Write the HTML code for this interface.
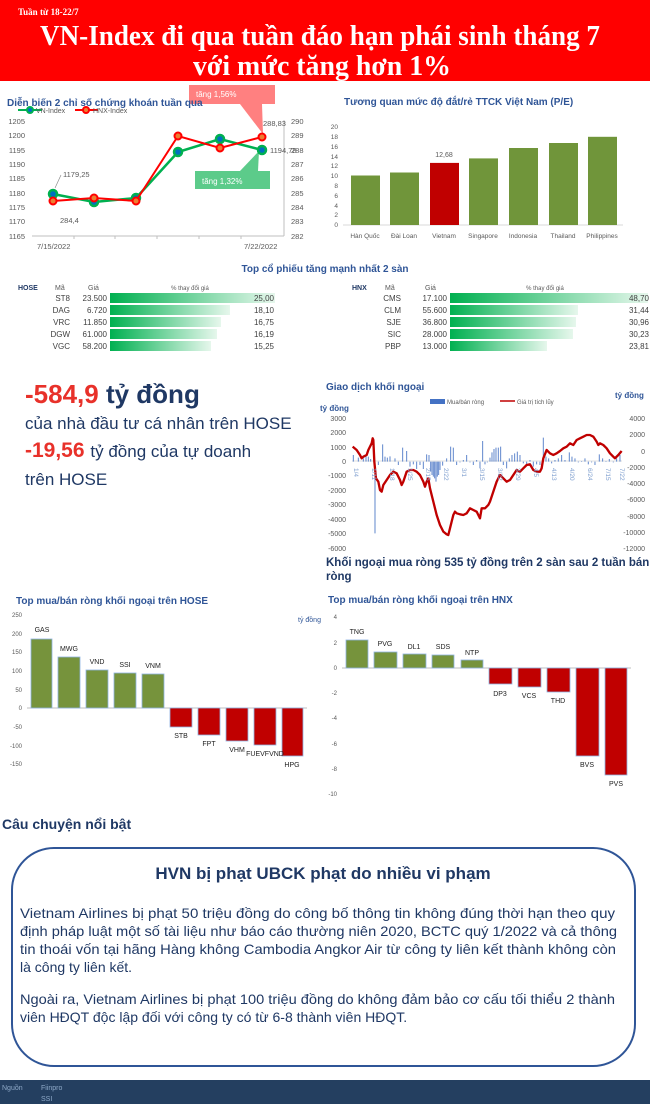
<!DOCTYPE html>
<html><head><meta charset="utf-8"><style>
html,body{margin:0;padding:0;background:#fff;}
svg{display:block;}
text{font-family:"Liberation Sans",sans-serif;}
text.serif{font-family:"Liberation Serif",serif;}
</style></head><body>
<svg width="650" height="1104" viewBox="0 0 650 1104" xmlns="http://www.w3.org/2000/svg">
<defs>
<linearGradient id="gb" x1="0" x2="1" y1="0" y2="0"><stop offset="0" stop-color="#00b050"/><stop offset="1" stop-color="#e6f7ec"/></linearGradient>
</defs>
<!-- header -->
<rect x="0" y="0" width="650" height="81" fill="#ff0000"/>
<text class="serif" x="18" y="15" fill="#fff" font-weight="bold" font-size="9">Tuần từ 18-22/7</text>
<text class="serif" x="40" y="45" fill="#fff" font-weight="bold" font-size="29" textLength="560" lengthAdjust="spacingAndGlyphs">VN-Index đi qua tuần đáo hạn phái sinh tháng 7</text>
<text class="serif" x="193" y="75" fill="#fff" font-weight="bold" font-size="29" textLength="258" lengthAdjust="spacingAndGlyphs">với mức tăng hơn 1%</text>

<!-- chart 1 -->
<rect x="189" y="85" width="86" height="19" fill="#ff8080"/>
<polygon points="240,104 262,104 263,134" fill="#ff8080"/>
<text x="196" y="97" fill="#fff" font-size="8">tăng 1,56%</text>
<rect x="195" y="171" width="75" height="18" fill="#5ccb8a"/>
<polygon points="240,171 258,171 259,151" fill="#5ccb8a"/>
<text x="202" y="184" fill="#fff" font-size="8">tăng 1,32%</text>
<text x="7" y="106" fill="#2f5597" font-weight="bold" font-size="10">Diễn biến 2 chỉ số chứng khoán tuần qua</text>
<line x1="18" y1="110" x2="42" y2="110" stroke="#00b050" stroke-width="2"/><circle cx="30" cy="110" r="3" fill="#0070c0" stroke="#00b050" stroke-width="2"/>
<text x="36" y="113" fill="#595959" font-size="7">VN-Index</text>
<line x1="75" y1="110" x2="98" y2="110" stroke="#ff0000" stroke-width="2"/><circle cx="86" cy="110" r="3" fill="#ed7d31" stroke="#ff0000" stroke-width="2"/>
<text x="93" y="113" fill="#595959" font-size="7">HNX-Index</text>
<g fill="#595959" font-size="7.5" text-anchor="end">
<text x="25" y="124">1205</text><text x="25" y="138">1200</text><text x="25" y="153">1195</text><text x="25" y="167">1190</text><text x="25" y="181">1185</text><text x="25" y="196">1180</text><text x="25" y="210">1175</text><text x="25" y="224">1170</text><text x="25" y="239">1165</text>
</g>
<g fill="#595959" font-size="7.5">
<text x="291" y="124">290</text><text x="291" y="138">289</text><text x="291" y="153">288</text><text x="291" y="167">287</text><text x="291" y="181">286</text><text x="291" y="196">285</text><text x="291" y="210">284</text><text x="291" y="224">283</text><text x="291" y="239">282</text>
</g>
<line x1="32" y1="236" x2="284" y2="236" stroke="#bfbfbf"/>
<line x1="284" y1="120" x2="284" y2="236" stroke="#bfbfbf"/>
<g stroke="#bfbfbf"><line x1="74" y1="236" x2="74" y2="239"/><line x1="115" y1="236" x2="115" y2="239"/><line x1="157" y1="236" x2="157" y2="239"/><line x1="199" y1="236" x2="199" y2="239"/><line x1="241" y1="236" x2="241" y2="239"/></g>
<text x="37" y="249" fill="#595959" font-size="7.5">7/15/2022</text>
<text x="244" y="249" fill="#595959" font-size="7.5">7/22/2022</text>
<polyline points="53,194 94,202 136,198 178,152 220,139 262,150" fill="none" stroke="#00b050" stroke-width="2.5"/>
<g fill="#0070c0" stroke="#00b050" stroke-width="2.5"><circle cx="53" cy="194" r="4"/><circle cx="94" cy="202" r="4"/><circle cx="136" cy="198" r="4"/><circle cx="178" cy="152" r="4"/><circle cx="220" cy="139" r="4"/><circle cx="262" cy="150" r="4"/></g>
<polyline points="53,201 94,198 136,201 178,136 220,148 262,137" fill="none" stroke="#ff0000" stroke-width="2"/>
<g fill="#ed7d31" stroke="#ff0000" stroke-width="2"><circle cx="53" cy="201" r="3.5"/><circle cx="94" cy="198" r="3.5"/><circle cx="136" cy="201" r="3.5"/><circle cx="178" cy="136" r="3.5"/><circle cx="220" cy="148" r="3.5"/><circle cx="262" cy="137" r="3.5"/></g>
<text x="63" y="177" fill="#595959" font-size="7.5">1179,25</text>
<line x1="55" y1="188" x2="61" y2="175" stroke="#7f7f7f" stroke-width="0.6"/>
<text x="60" y="223" fill="#595959" font-size="7.5">284,4</text>
<text x="263" y="126" fill="#595959" font-size="7.5">288,83</text>
<text x="270" y="153" fill="#595959" font-size="7.5">1194,78</text>

<!-- P/E chart -->
<text x="344" y="105" fill="#2f5597" font-weight="bold" font-size="10">Tương quan mức độ đắt/rẻ TTCK Việt Nam (P/E)</text>
<g fill="#595959" font-size="6.5" text-anchor="end">
<text x="338" y="129">20</text><text x="338" y="139">18</text><text x="338" y="149">16</text><text x="338" y="159">14</text><text x="338" y="168">12</text><text x="338" y="178">10</text><text x="338" y="188">8</text><text x="338" y="198">6</text><text x="338" y="208">4</text><text x="338" y="217">2</text><text x="338" y="227">0</text>
</g>
<line x1="343" y1="225" x2="623" y2="225" stroke="#d9d9d9"/>
<g fill="#70953a">
<rect x="351" y="175.5" width="29" height="49.5"/>
<rect x="390" y="172.5" width="29" height="52.5"/>
<rect x="469" y="158.4" width="29" height="66.6"/>
<rect x="509" y="148" width="29" height="77"/>
<rect x="549" y="143" width="29" height="82"/>
<rect x="588" y="136.8" width="29" height="88.2"/>
</g>
<rect x="430" y="162.9" width="29" height="62.1" fill="#c00000"/>
<text x="444" y="157" fill="#595959" font-size="7" text-anchor="middle">12,68</text>
<g fill="#595959" font-size="6.5" text-anchor="middle">
<text x="365" y="238">Hàn Quốc</text><text x="404" y="238">Đài Loan</text><text x="444" y="238">Vietnam</text><text x="483" y="238">Singapore</text><text x="523" y="238">Indonesia</text><text x="563" y="238">Thailand</text><text x="602" y="238">Philippines</text>
</g>

<!-- top stocks -->
<text x="325" y="272" fill="#2f5597" font-weight="bold" font-size="10" text-anchor="middle">Top cổ phiếu tăng mạnh nhất 2 sàn</text>
<g font-size="7" fill="#595959">
<text x="18" y="290" font-weight="bold" fill="#1f3864">HOSE</text><text x="55" y="290">Mã</text><text x="88" y="290">Giá</text><text x="190" y="290" text-anchor="middle" font-size="6">% thay đổi giá</text>
<text x="352" y="290" font-weight="bold" fill="#1f3864">HNX</text><text x="385" y="290">Mã</text><text x="425" y="290">Giá</text><text x="545" y="290" text-anchor="middle" font-size="6">% thay đổi giá</text>
</g>
<g fill="url(#gb)">
<rect x="110" y="293" width="165" height="10"/><rect x="110" y="305" width="120" height="10"/><rect x="110" y="317" width="111" height="10"/><rect x="110" y="329" width="107" height="10"/><rect x="110" y="341" width="101" height="10"/>
<rect x="450" y="293" width="198" height="10"/><rect x="450" y="305" width="128" height="10"/><rect x="450" y="317" width="126" height="10"/><rect x="450" y="329" width="123" height="10"/><rect x="450" y="341" width="97" height="10"/>
</g>
<g font-size="8" fill="#404040" text-anchor="end">
<text x="70" y="301">ST8</text><text x="70" y="313">DAG</text><text x="70" y="325">VRC</text><text x="70" y="337">DGW</text><text x="70" y="349">VGC</text>
<text x="107" y="301">23.500</text><text x="107" y="313">6.720</text><text x="107" y="325">11.850</text><text x="107" y="337">61.000</text><text x="107" y="349">58.200</text>
<text x="274" y="301">25,00</text><text x="274" y="313">18,10</text><text x="274" y="325">16,75</text><text x="274" y="337">16,19</text><text x="274" y="349">15,25</text>
<text x="401" y="301">CMS</text><text x="401" y="313">CLM</text><text x="401" y="325">SJE</text><text x="401" y="337">SIC</text><text x="401" y="349">PBP</text>
<text x="447" y="301">17.100</text><text x="447" y="313">55.600</text><text x="447" y="325">36.800</text><text x="447" y="337">28.000</text><text x="447" y="349">13.000</text>
<text x="649" y="301">48,70</text><text x="649" y="313">31,44</text><text x="649" y="325">30,96</text><text x="649" y="337">30,23</text><text x="649" y="349">23,81</text>
</g>

<!-- big numbers -->
<text x="25" y="403" fill="#e8312a" font-weight="bold" font-size="26">-584,9 <tspan fill="#1f3864">tỷ đồng</tspan></text>
<text x="25" y="429" fill="#1f3864" font-size="17">của nhà đầu tư cá nhân trên HOSE</text>
<text x="25" y="457" fill="#e8312a" font-weight="bold" font-size="21">-19,56 <tspan fill="#1f3864" font-weight="normal" font-size="17">tỷ đồng của tự doanh</tspan></text>
<text x="25" y="485" fill="#1f3864" font-size="17">trên HOSE</text>

<!-- foreign trading chart -->
<text x="326" y="390" fill="#2f5597" font-weight="bold" font-size="10">Giao dịch khối ngoại</text>
<rect x="430" y="399" width="15" height="5" fill="#4472c4"/>
<text x="447" y="404" fill="#595959" font-size="6">Mua/bán ròng</text>
<line x1="500" y1="401" x2="515" y2="401" stroke="#c00000" stroke-width="1.5"/>
<text x="517" y="404" fill="#595959" font-size="6">Giá trị tích lũy</text>
<text x="320" y="411" fill="#2f5597" font-weight="bold" font-size="8">tỷ đồng</text>
<text x="615" y="398" fill="#2f5597" font-weight="bold" font-size="8">tỷ đồng</text>
<g fill="#595959" font-size="7" text-anchor="end">
<text x="346" y="421">3000</text><text x="346" y="435">2000</text><text x="346" y="450">1000</text><text x="346" y="464">0</text><text x="346" y="478">-1000</text><text x="346" y="493">-2000</text><text x="346" y="507">-3000</text><text x="346" y="522">-4000</text><text x="346" y="536">-5000</text><text x="346" y="551">-6000</text>
</g>
<g fill="#595959" font-size="7" text-anchor="end">
<text x="645" y="421">4000</text><text x="645" y="437">2000</text><text x="645" y="454">0</text><text x="645" y="470">-2000</text><text x="645" y="486">-4000</text><text x="645" y="502">-6000</text><text x="645" y="519">-8000</text><text x="645" y="535">-10000</text><text x="645" y="551">-12000</text>
</g>
<line x1="352" y1="461" x2="622" y2="461" stroke="#bfbfbf" stroke-width="0.6"/>
<g transform="translate(310,375) scale(0.3333)" stroke="#4472c4" stroke-width="3" opacity="0.85">
<path d="M130 260V240 M145 260V248 M160 260V250 M168 260V238 M175 260V245 M182 260V252 M195 260V475 M205 260V270 M218 260V208 M225 260V245 M232 260V248 M240 260V244 M255 260V250 M265 260V270 M278 260V218 M290 260V228 M300 260V275 M310 260V268 M320 260V282 M330 260V270 M340 260V282 M350 260V238 M357 260V240 M362 260V290 M366 260V300 M370 260V305 M374 260V310 M378 260V320 M382 260V305 M386 260V300 M390 260V285 M398 260V272 M410 260V250 M422 260V215 M430 260V218 M440 260V270 M450 260V262 M460 260V255 M470 260V240 M480 260V262 M490 260V270 M500 260V255 M510 260V280 M518 260V198 M525 260V268 M532 260V262 M540 260V248 M546 260V232 M552 260V222 M558 260V218 M565 260V218 M572 260V215 M580 260V270 M590 260V280 M598 260V250 M606 260V240 M614 260V235 M622 260V230 M630 260V240 M640 260V265 M650 260V268 M660 260V255 M670 260V275 M680 260V268 M690 260V270 M700 260V188 M708 260V245 M716 260V250 M725 260V265 M735 260V255 M745 260V250 M755 260V240 M765 260V255 M778 260V232 M786 260V245 M795 260V250 M805 260V262 M815 260V258 M825 260V250 M835 260V268 M845 260V262 M855 260V270 M868 260V238 M878 260V250 M888 260V258 M898 260V252 M910 260V262 M920 260V250 M930 260V240"/>
</g>
<g transform="translate(310,375) scale(0.3333)">
<polyline fill="none" stroke="#c00000" stroke-width="7" stroke-linejoin="round" points="128,215 140,225 150,240 155,250 160,245 170,240 175,225 180,215 185,205 188,190 190,195 193,260 198,310 205,320 210,345 215,350 220,330 230,315 240,300 250,290 260,295 270,315 275,330 280,320 290,290 300,285 310,285 320,290 330,300 340,320 345,335 350,320 355,310 360,340 370,380 380,420 390,450 400,470 410,478 415,480 420,460 425,440 430,420 435,410 440,415 450,418 460,420 470,415 480,400 490,405 500,410 505,420 510,430 515,400 525,400 535,390 540,380 550,350 560,320 570,300 575,305 580,310 590,320 600,315 610,300 620,285 630,290 640,280 650,270 660,268 670,285 680,290 690,290 695,280 700,250 710,225 720,235 730,240 740,235 750,228 760,220 770,215 780,205 790,210 800,195 810,190 820,185 830,180 840,180 850,185 860,200 865,210 870,205 880,210 890,220 900,235 910,245 915,250 925,240 935,228"/>
</g>
<g fill="#7f9fcf" font-size="6.5">
<text transform="translate(354,468) rotate(90)">1/4</text><text transform="translate(372,468) rotate(90)">1/11</text><text transform="translate(390,468) rotate(90)">1/18</text><text transform="translate(408,468) rotate(90)">1/25</text><text transform="translate(426,468) rotate(90)">2/15</text><text transform="translate(444,468) rotate(90)">2/22</text><text transform="translate(462,468) rotate(90)">3/1</text><text transform="translate(480,468) rotate(90)">3/15</text><text transform="translate(498,468) rotate(90)">3/22</text><text transform="translate(516,468) rotate(90)">3/29</text><text transform="translate(534,468) rotate(90)">4/5</text><text transform="translate(552,468) rotate(90)">4/13</text><text transform="translate(570,468) rotate(90)">4/20</text><text transform="translate(588,468) rotate(90)">6/24</text><text transform="translate(606,468) rotate(90)">7/15</text><text transform="translate(620,468) rotate(90)">7/22</text>
</g>
<text x="326" y="566" fill="#1f3864" font-weight="bold" font-size="11.5">Khối ngoại mua ròng 535 tỷ đồng trên 2 sàn sau 2 tuần bán</text>
<text x="326" y="580" fill="#1f3864" font-weight="bold" font-size="11.5">ròng</text>

<!-- HOSE bar chart -->
<text x="16" y="604" fill="#2f5597" font-weight="bold" font-size="10">Top mua/bán ròng khối ngoại trên HOSE</text>
<text x="298" y="622" fill="#2f5597" font-size="7">tỷ đồng</text>
<g fill="#595959" font-size="6" text-anchor="end">
<text x="22" y="617">250</text><text x="22" y="636">200</text><text x="22" y="654">150</text><text x="22" y="673">100</text><text x="22" y="692">50</text><text x="22" y="710">0</text><text x="22" y="729">-50</text><text x="22" y="748">-100</text><text x="22" y="766">-150</text>
</g>
<line x1="27" y1="708" x2="307" y2="708" stroke="#bfbfbf"/>
<g fill="#76933c" stroke="#8eb4e3" stroke-width="0.8">
<rect x="31" y="639" width="21" height="69"/><rect x="58" y="657" width="22" height="51"/><rect x="86" y="670" width="22" height="38"/><rect x="114" y="673" width="22" height="35"/><rect x="142" y="674" width="22" height="34"/>
</g>
<g fill="#c00000" stroke="#8eb4e3" stroke-width="0.8">
<rect x="170" y="708" width="22" height="19"/><rect x="198" y="708" width="22" height="27"/><rect x="226" y="708" width="22" height="33"/><rect x="254" y="708" width="22" height="37"/><rect x="282" y="708" width="21" height="48"/>
</g>
<g fill="#222" font-size="7" text-anchor="middle">
<text x="42" y="632">GAS</text><text x="69" y="651">MWG</text><text x="97" y="664">VND</text><text x="125" y="667">SSI</text><text x="153" y="668">VNM</text>
<text x="181" y="738">STB</text><text x="209" y="746">FPT</text><text x="237" y="752">VHM</text><text x="265" y="756">FUEVFVND</text><text x="292" y="767">HPG</text>
</g>

<!-- HNX bar chart -->
<text x="328" y="603" fill="#2f5597" font-weight="bold" font-size="10">Top mua/bán ròng khối ngoại trên HNX</text>
<g fill="#595959" font-size="6" text-anchor="end">
<text x="337" y="619">4</text><text x="337" y="645">2</text><text x="337" y="670">0</text><text x="337" y="695">-2</text><text x="337" y="720">-4</text><text x="337" y="746">-6</text><text x="337" y="771">-8</text><text x="337" y="796">-10</text>
</g>
<line x1="342" y1="668" x2="631" y2="668" stroke="#bfbfbf"/>
<g fill="#76933c" stroke="#8eb4e3" stroke-width="0.8">
<rect x="346" y="640" width="22" height="28"/><rect x="374" y="652" width="23" height="16"/><rect x="403" y="654" width="23" height="14"/><rect x="432" y="655" width="22" height="13"/><rect x="461" y="660" width="22" height="8"/>
</g>
<g fill="#c00000" stroke="#8eb4e3" stroke-width="0.8">
<rect x="489" y="668" width="23" height="16"/><rect x="518" y="668" width="23" height="19"/><rect x="547" y="668" width="23" height="24"/><rect x="576" y="668" width="23" height="88"/><rect x="605" y="668" width="22" height="107"/>
</g>
<g fill="#222" font-size="7" text-anchor="middle">
<text x="357" y="634">TNG</text><text x="385" y="646">PVG</text><text x="414" y="649">DL1</text><text x="443" y="649">SDS</text><text x="472" y="655">NTP</text>
<text x="500" y="696">DP3</text><text x="529" y="698">VCS</text><text x="558" y="703">THD</text><text x="587" y="767">BVS</text><text x="616" y="786">PVS</text>
</g>

<!-- story -->
<text x="2" y="829" fill="#1f3864" font-weight="bold" font-size="14">Câu chuyện nổi bật</text>
<rect x="12" y="848" width="623" height="218" rx="42" ry="42" fill="#fff" stroke="#2f5597" stroke-width="2"/>
<text x="323" y="879" fill="#1f3864" font-weight="bold" font-size="17" text-anchor="middle">HVN bị phạt UBCK phạt do nhiều vi phạm</text>
<g fill="#1f3864" font-size="14">
<text x="20" y="918" textLength="595" lengthAdjust="spacingAndGlyphs">Vietnam Airlines bị phạt 50 triệu đồng do công bố thông tin không đúng thời hạn theo quy</text>
<text x="20" y="936" textLength="597" lengthAdjust="spacingAndGlyphs">định pháp luật một số tài liệu như báo cáo thường niên 2020, BCTC quý 1/2022 và cả thông</text>
<text x="20" y="954" textLength="596" lengthAdjust="spacingAndGlyphs">tin thoái vốn tại hãng Hàng không Cambodia Angkor Air từ công ty liên kết thành không còn</text>
<text x="20" y="972">là công ty liên kết.</text>
<text x="20" y="1004" textLength="595" lengthAdjust="spacingAndGlyphs">Ngoài ra, Vietnam Airlines bị phạt 100 triệu đồng do không đảm bảo cơ cấu tối thiểu 2 thành</text>
<text x="20" y="1022">viên HĐQT độc lập đối với công ty có từ 6-8 thành viên HĐQT.</text>
</g>

<!-- footer -->
<rect x="0" y="1080" width="650" height="24" fill="#243f60"/>
<text x="2" y="1090" fill="#8ea9c8" font-size="7">Nguồn</text>
<text x="41" y="1090" fill="#8ea9c8" font-size="7">Fiinpro</text>
<text x="41" y="1101" fill="#8ea9c8" font-size="7">SSI</text>
</svg>
</body></html>
